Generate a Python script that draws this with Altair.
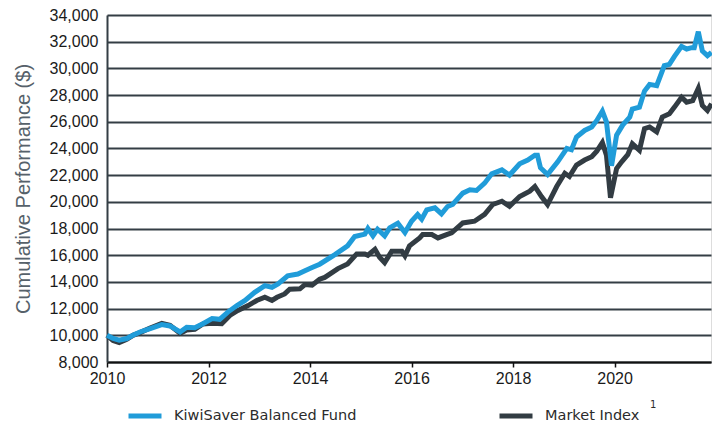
import altair as alt
import pandas as pd

fund_name = "KiwiSaver Balanced Fund"
index_name = "Market Index"

fund_t = [2010.00, 2010.12, 2010.24, 2010.39, 2010.51, 2010.65, 2010.85, 2011.08, 2011.24, 2011.44,
          2011.57, 2011.73, 2011.89, 2012.07, 2012.22, 2012.38, 2012.56, 2012.72, 2012.91, 2013.11,
          2013.25, 2013.37, 2013.56, 2013.76, 2013.90, 2014.04, 2014.19, 2014.49, 2014.74, 2014.88,
          2015.08, 2015.14, 2015.24, 2015.33, 2015.47, 2015.57, 2015.73, 2015.87, 2016.00, 2016.12,
          2016.20, 2016.30, 2016.46, 2016.59, 2016.71, 2016.81, 2017.01, 2017.15, 2017.28, 2017.44,
          2017.58, 2017.78, 2017.93, 2018.13, 2018.29, 2018.43, 2018.48, 2018.54, 2018.68, 2018.88,
          2019.06, 2019.15, 2019.25, 2019.41, 2019.55, 2019.65, 2019.76, 2019.84, 2019.94, 2020.04,
          2020.16, 2020.30, 2020.35, 2020.49, 2020.59, 2020.69, 2020.83, 2020.98, 2021.08, 2021.18,
          2021.32, 2021.42, 2021.52, 2021.57, 2021.65, 2021.73, 2021.83, 2021.91]
fund_v = [10000, 9760, 9630, 9760, 10000, 10250, 10500, 10800, 10700, 10250,
          10600, 10570, 10870, 11250, 11200, 11740, 12230, 12610, 13220, 13720,
          13600, 13850, 14460, 14590, 14840, 15080, 15330, 16050, 16700, 17400,
          17580, 18000, 17450, 17950, 17450, 18050, 18400, 17700, 18550, 19050,
          18700, 19400, 19550, 19100, 19650, 19800, 20650, 20900, 20850, 21400,
          22100, 22400, 22000, 22850, 23130, 23500, 23500, 22550, 22050, 23000,
          24000, 23900, 24850, 25350, 25600, 26100, 26800, 26000, 22700, 25000,
          25750, 26350, 26950, 27100, 28300, 28800, 28700, 30200, 30300, 30900,
          31650, 31450, 31550, 31550, 32750, 31300, 30950, 31200]

index_t = [2010.00, 2010.12, 2010.24, 2010.39, 2010.51, 2010.65, 2010.85, 2011.08, 2011.24, 2011.44,
           2011.57, 2011.73, 2011.89, 2012.07, 2012.26, 2012.42, 2012.58, 2012.78, 2012.95, 2013.11,
           2013.25, 2013.35, 2013.50, 2013.60, 2013.80, 2013.90, 2014.04, 2014.19, 2014.29, 2014.55,
           2014.74, 2014.92, 2015.08, 2015.14, 2015.28, 2015.37, 2015.47, 2015.61, 2015.81, 2015.87,
           2015.96, 2016.16, 2016.22, 2016.40, 2016.52, 2016.69, 2016.79, 2017.01, 2017.24, 2017.44,
           2017.60, 2017.78, 2017.93, 2018.13, 2018.33, 2018.43, 2018.56, 2018.68, 2018.86, 2019.02,
           2019.11, 2019.25, 2019.41, 2019.55, 2019.65, 2019.76, 2019.84, 2019.92, 2020.04, 2020.14,
           2020.26, 2020.35, 2020.49, 2020.59, 2020.69, 2020.83, 2020.94, 2021.08, 2021.18, 2021.32,
           2021.42, 2021.54, 2021.65, 2021.73, 2021.83, 2021.91]
index_v = [10000, 9600, 9450, 9700, 10000, 10200, 10550, 10900, 10750, 10150,
           10400, 10450, 10850, 10900, 10870, 11490, 11860, 12230, 12610, 12850,
           12610, 12850, 13100, 13450, 13480, 13800, 13750, 14200, 14340, 15000,
           15350, 16100, 16100, 16000, 16450, 15850, 15450, 16300, 16300, 15950,
           16700, 17300, 17550, 17550, 17300, 17550, 17680, 18420, 18550, 19070,
           19800, 20050, 19660, 20400, 20800, 21150, 20400, 19800, 21150, 22140,
           21900, 22760, 23130, 23380, 23800, 24450, 23500, 20300, 22500, 23000,
           23530, 24350, 23870, 25480, 25610, 25240, 26350, 26600, 27100, 27840,
           27470, 27590, 28500, 27220, 26850, 27350]

year_ticks = [2010, 2012, 2014, 2016, 2018, 2020]
y_ticks = list(range(8000, 34001, 2000))

fund_df = pd.DataFrame({"t": fund_t, "v": fund_v, "series": fund_name})
index_df = pd.DataFrame({"t": index_t, "v": index_v, "series": index_name})

BLUE = "#209cd9"
DARK = "#323c43"

x_enc = alt.X("t:Q", scale=alt.Scale(domain=[2010, 2021.9], nice=False, zero=False),
              axis=alt.Axis(values=year_ticks, format="d", title=None, grid=False,
                            labelFont="Liberation Sans", labelFontSize=16, labelColor="#1a1a1a",
                            labelPadding=3, tickSize=5, tickWidth=1.5, tickColor="#111111",
                            domainColor="#111111", domainWidth=2, labelFlush=False))
y_enc = alt.Y("v:Q", scale=alt.Scale(domain=[8000, 34000], nice=False, zero=False),
              axis=alt.Axis(values=y_ticks, format=",d", title="Cumulative Performance ($)",
                            grid=True, gridColor="#343e45", gridWidth=2, ticks=False,
                            labelFont="Liberation Sans", labelFontSize=16, labelColor="#1a1a1a",
                            labelPadding=9, domainColor="#343e45", domainWidth=2,
                            titleFont="Liberation Sans", titleFontSize=20, titleFontWeight="normal",
                            titleColor="#56616a", titlePadding=16))
color_enc = alt.Color("series:N",
                      scale=alt.Scale(domain=[fund_name, index_name], range=[BLUE, DARK]),
                      legend=alt.Legend(title=None, orient="none", legendX=19, legendY=382,
                                        direction="horizontal", symbolType="stroke",
                                        symbolSize=1089, symbolStrokeWidth=5,
                                        labelFont="DejaVu Sans", labelFontSize=14.5,
                                        labelColor="#2b2b2b", labelOffset=10,
                                        columnPadding=132, labelLimit=400))

index_line = alt.Chart(index_df).mark_line(strokeWidth=5, strokeJoin="miter").encode(
    x=x_enc, y=y_enc, color=color_enc)
fund_line = alt.Chart(fund_df).mark_line(strokeWidth=5, strokeJoin="miter").encode(
    x=x_enc, y=y_enc, color=color_enc)

sup = alt.Chart(pd.DataFrame({"s": ["1"]})).mark_text(
    font="DejaVu Sans", fontSize=10, color="#2b2b2b", align="left", baseline="middle"
).encode(x=alt.value(543), y=alt.value(390), text="s:N")

chart = alt.layer(index_line, fund_line, sup).properties(
    width=604, height=347,
    autosize=alt.AutoSizeParams(type="none"),
    padding={"left": 99, "top": 7, "right": 1, "bottom": 62},
).configure_view(stroke=None).configure(background="white")

chart.save("out.html", embed_options={"renderer": "svg", "actions": False})
